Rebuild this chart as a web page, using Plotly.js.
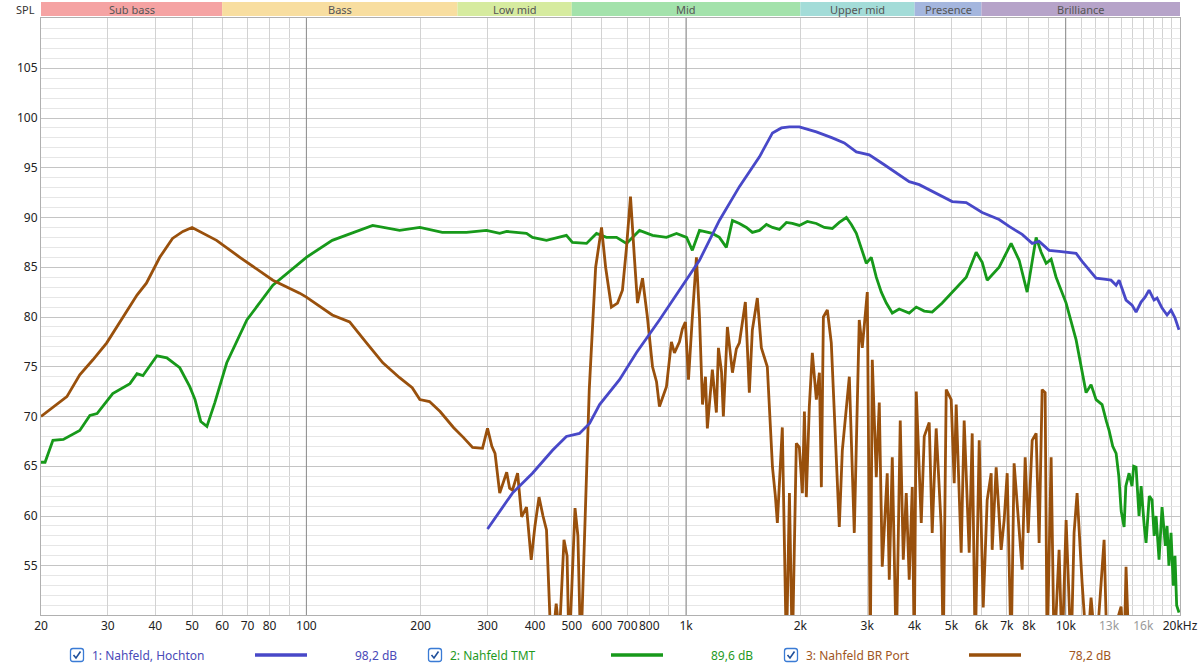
<!DOCTYPE html>
<html><head><meta charset="utf-8">
<script src="https://cdn.plot.ly/plotly-3.0.1.min.js"></script>
<style>html,body{margin:0;padding:0;background:#fff;} #chart{width:1200px;height:667px;}</style>
</head><body><div id="chart"></div>
<script>
// ---------- data ----------
const hochtonFreq = [300,323,349,394,445,484,524,557,592,668,
  740,851,1003,1085,1224,1382,1561,1689,1783,1872,
  1988,2204,2428,2611,2809,3038,3328,3643,3871,4114,
  4505,5024,5470,6026,6678,7097,7679,8160,8511,9044,
  9607,10206,10651,11044,11522,12023,12622,13165,13576,13824,
  14418,14953,15322,15793,16181,16577,17087,17400,17937,18489,
  18941,19408,19880];
const hochtonSpl = [58.7,60.5,62.3,64.3,66.6,68.0,68.3,69.3,71.2,73.7,
  76.4,79.7,83.7,85.7,89.7,93.1,96.1,98.5,99.0,99.1,
  99.1,98.6,98.0,97.5,96.6,96.3,95.3,94.3,93.6,93.3,
  92.5,91.6,91.5,90.5,89.8,89.1,88.3,87.4,87.6,86.7,
  86.6,86.5,86.4,85.6,84.7,83.9,83.8,83.7,83.2,83.7,
  81.7,81.2,80.5,81.5,82.0,82.7,81.7,81.9,80.9,80.2,
  80.7,79.9,78.7];

const tmtFreq = [20,20.5,21.5,22.9,25.3,26.9,28.1,30.9,34.3,35.8,
  37.1,40.4,42.9,46.4,49.3,50.9,52.7,54.7,57.4,61.7,
  69.7,81.6,100,117,149.5,176,199,228,264,298,
  323,337,380,394,429,464,484,502,547,581,
  617,656,697,754,816,888,944,1003,1039,1085,
  1173,1224,1277,1325,1382,1442,1495,1561,1628,1689,
  1762,1838,1905,1988,2087,2204,2313,2428,2533,2644,
  2725,2809,2894,2984,3075,3170,3268,3369,3493,3643,
  3871,4040,4240,4450,4728,5024,5470,5810,6026,6211,
  6678,7182,7540,7915,8358,8617,8881,9154,9434,10025,
  10651,11315,11662,12023,12467,12800,13008,13300,13576,13800,
  14000,14250,14400,14687,14950,15100,15322,15600,15800,16100,
  16277,16600,16881,17100,17300,17614,17937,18300,18489,18700,
  18941,19200,19400,19600,19880];
const tmtSpl = [65.4,65.4,67.6,67.7,68.6,70.1,70.3,72.3,73.3,74.3,
  74.1,76.1,75.9,74.9,73.0,71.7,69.5,69.0,71.4,75.4,
  79.7,83.2,86.0,87.7,89.2,88.7,89.0,88.5,88.5,88.7,
  88.4,88.6,88.4,88.0,87.7,88.0,88.2,87.5,87.4,88.4,
  88.0,88.0,87.4,88.7,88.2,88.0,88.4,88.0,86.7,88.7,
  88.4,88.0,87.0,89.7,89.4,89.0,88.5,88.7,89.3,89.0,
  88.8,89.5,89.4,89.2,89.6,89.4,89.0,88.9,89.5,90.0,
  89.3,88.4,87.0,85.4,86.0,84.0,82.5,81.4,80.4,80.8,
  80.4,81.0,80.6,80.5,81.4,82.5,84.0,86.5,85.5,83.7,
  85.0,87.4,85.7,82.5,88.0,86.5,85.4,85.8,84.0,81.4,
  77.7,72.4,73.2,71.7,71.2,69.5,68.6,67.0,66.3,64.0,
  60.5,58.9,63.0,64.3,63.0,65.0,64.9,60.0,63.0,59.0,
  57.3,62.0,61.6,58.0,60.0,55.6,60.9,57.0,59.0,55.0,
  58.3,53.0,56.0,51.0,50.3];

const portFreq = [20,21.5,23.4,25.3,27.4,29.8,32.2,35.8,37.9,41.1,
  44.4,47.3,50,52.4,58.0,66.8,81.6,96,100,117,
  130,144,159,176,190,199,211,225,244,259,
  274,291,300,308,314,323,337,343,349,360,
  369,380,391,400,410,420,429,442,455,464,
  477,486,492,510,519,528,556,578,599,614,
  636,660,680,697,714,731,745,768,791,816,
  836,851,888,915,932,961,978,996,1015,1039,
  1065,1085,1105,1125,1138,1173,1202,1217,1240,1254,
  1285,1325,1357,1382,1433,1468,1495,1541,1579,1637,
  1689,1719,1740,1793,1838,1872,1905,1952,1988,2025,
  2050,2074,2112,2151,2204,2245,2272,2300,2356,2413,
  2457,2533,2580,2692,2774,2859,2912,3002,3057,3094,
  3170,3228,3287,3388,3430,3493,3579,3666,3734,3802,
  3871,3943,3991,4040,4164,4240,4370,4450,4559,4700,
  4758,4845,4993,5085,5147,5305,5402,5569,5672,5776,
  5918,6063,6211,6364,6402,6559,6761,6885,7013,7182,
  7313,7540,7679,7821,7964,8160,8358,8511,8668,8827,
  8934,9154,9323,9607,9784,10025,10332,10521,10715,11044,
  11383,11662,12023,12622,12851,13992,14250,14418,14687,20000];
const portSpl = [70.0,70.9,72.0,74.2,75.7,77.4,79.4,82.2,83.4,86.0,
  87.9,88.6,89.0,88.6,87.7,86.0,83.7,82.4,82.0,80.2,
  79.5,77.4,75.4,73.9,72.9,71.7,71.5,70.5,68.9,67.9,
  66.9,66.8,68.8,67.0,66.3,62.3,64.4,62.8,62.6,64.3,
  59.9,60.9,55.6,59.0,61.9,60.0,58.6,46,51.2,48,
  57.6,56.0,46,60.8,58.0,46,72.7,85.0,89.0,85.0,
  81.0,81.4,82.7,87.0,92.1,86.0,81.4,83.9,80.0,75.0,
  73.5,71.0,73.0,77.5,76.4,77.5,78.8,79.5,73.7,80.0,
  86.0,80.0,71.2,74.0,68.8,74.7,70.4,76.9,74.5,70.0,
  79.0,74.4,76.8,77.4,81.5,72.4,78.7,81.9,76.9,75.0,
  64.9,62.0,59.3,68.9,46,62.3,46,67.3,66.9,62.3,
  70.5,61.9,71.0,76.4,71.7,74.4,62.9,80.0,80.7,77.4,
  70.0,58.9,66.6,74.0,58.3,79.7,76.9,82.5,46,75.7,
  63.9,71.4,54.9,64.3,53.6,65.9,46,69.6,55.6,62.3,
  53.6,62.9,46,72.5,59.3,68.0,69.4,58.3,68.8,58.9,
  46,72.7,71.7,63.3,71.2,56.3,69.6,56.3,68.3,46,
  67.6,50.8,61.6,64.3,56.6,64.9,56.6,59.6,64.3,46,
  65.3,58.3,54.6,65.9,58.3,67.6,68.3,57.3,72.7,72.4,
  46,65.9,46,56.6,46,59.6,46,58.3,62.3,53.3,
  46,51.8,46,57.6,46,50.9,46,54.9,46,45];

const xTickVals = [20,30,40,50,60,70,80,100,200,300,400,500,600,700,800,1000,2000,3000,4000,5000,6000,7000,8000,10000,13000,16000,20000];
const xTickText = ['20','30','40','50','60','70','80','100','200','300','400','500','600','700','800','1k','2k','3k','4k','5k','6k','7k','8k','10k',
  '<span style="color:#9a9a9a">13k</span>','<span style="color:#9a9a9a">16k</span>','20kHz'];
const xExtraGrid = [90,900,9000,11000,12000,14000,15000,17000,18000,19000];
const xDecadeLines = [100,1000,10000];
const yTickVals = [55,60,65,70,75,80,85,90,95,100,105];

const bandNames = ['Sub bass','Bass','Low mid','Mid','Upper mid','Presence','Brilliance'];
const bandEdges = [20,60,250,500,2000,4000,6000,20000];
const bandColors = ['#f5a3a3','#f8dea0','#d6eb9f','#a3e2ab','#a3dcd8','#a4b6de','#b6a3c9'];

const seriesNames = ['1: Nahfeld, Hochton','2: Nahfeld TMT','3: Nahfeld BR Port'];
const seriesLevels = ['98,2 dB','89,6 dB','78,2 dB'];
const seriesColors = ['#4848c8','#17991a','#99500c'];
const textColors = ['#4a4ab8','#1f9a1f','#a0561e'];

// ---------- layout helpers ----------
const L = 41, R = 1180, T = 18, B = 615;
const px = x => (x - L) / (R - L);
const py = y => (B - y) / (B - T);
const fFrac = f => (Math.log10(f) - Math.log10(20)) / (Math.log10(20000) - Math.log10(20));

const traces = [
  {x: tmtFreq, y: tmtSpl, color: seriesColors[1]},
  {x: portFreq, y: portSpl, color: seriesColors[2]},
  {x: hochtonFreq, y: hochtonSpl, color: seriesColors[0]}
].map(s => ({x: s.x, y: s.y, type: 'scatter', mode: 'lines',
  line: {color: s.color, width: 2.8}, hoverinfo: 'skip', showlegend: false}));

const shapes = [];
const annotations = [];

// decade lines
xDecadeLines.forEach(f => shapes.push({type: 'line', xref: 'x', yref: 'y',
  x0: f, x1: f, y0: 50.05, y1: 110.05, layer: 'between',
  line: {color: '#8c8c8c', width: 1}}));

// frequency bands
bandNames.forEach((n, i) => {
  shapes.push({type: 'rect', xref: 'paper', yref: 'paper',
    x0: fFrac(bandEdges[i]), x1: fFrac(bandEdges[i + 1]),
    y0: py(16), y1: py(2), fillcolor: bandColors[i], line: {width: 0}});
  annotations.push({xref: 'paper', yref: 'paper',
    x: (fFrac(bandEdges[i]) + fFrac(bandEdges[i + 1])) / 2, y: py(9),
    text: n, showarrow: false, xanchor: 'center', yanchor: 'middle',
    font: {size: 11, color: '#555', family: 'Noto Sans, sans-serif'}});
});
annotations.push({xref: 'paper', yref: 'paper', x: px(37), y: py(9), text: 'SPL',
  showarrow: false, xanchor: 'right', yanchor: 'middle',
  font: {size: 11, color: '#333', family: 'Noto Sans, sans-serif'}});

// legend
const legY = 655;
const cbX = [77, 435, 791], txtX = [90, 448, 804], lnX = [255, 611, 969], lvX = [353, 709, 1067];
function roundRect(cx, cy, h, r) {
  const x0 = cx - h, x1 = cx + h, y0 = cy - h, y1 = cy + h;
  const P = (x, y) => px(x) + ',' + py(y);
  return 'M' + P(x0 + r, y0) + ' L' + P(x1 - r, y0) + ' Q' + P(x1, y0) + ' ' + P(x1, y0 + r) +
    ' L' + P(x1, y1 - r) + ' Q' + P(x1, y1) + ' ' + P(x1 - r, y1) +
    ' L' + P(x0 + r, y1) + ' Q' + P(x0, y1) + ' ' + P(x0, y1 - r) +
    ' L' + P(x0, y0 + r) + ' Q' + P(x0, y0) + ' ' + P(x0 + r, y0) + ' Z';
}
seriesNames.forEach((n, i) => {
  shapes.push({type: 'path', xref: 'paper', yref: 'paper', path: roundRect(cbX[i], legY, 6.5, 2.5),
    line: {color: '#3a7bd5', width: 1.3}, fillcolor: '#fff'});
  shapes.push({type: 'path', xref: 'paper', yref: 'paper',
    path: 'M' + px(cbX[i] - 3.5) + ',' + py(legY) + ' L' + px(cbX[i] - 1) + ',' + py(legY + 3) +
      ' L' + px(cbX[i] + 3.5) + ',' + py(legY - 3.5),
    line: {color: '#1f4f9a', width: 1.6}});
  annotations.push({xref: 'paper', yref: 'paper', x: px(txtX[i]), y: py(legY), text: n,
    showarrow: false, xanchor: 'left', yanchor: 'middle',
    font: {size: 12, color: textColors[i], family: 'Noto Sans, sans-serif'}});
  shapes.push({type: 'line', xref: 'paper', yref: 'paper', x0: px(lnX[i]), x1: px(lnX[i] + 52),
    y0: py(legY), y1: py(legY), line: {color: seriesColors[i], width: 3.5}});
  annotations.push({xref: 'paper', yref: 'paper', x: px(lvX[i]), y: py(legY), text: seriesLevels[i],
    showarrow: false, xanchor: 'left', yanchor: 'middle',
    font: {size: 12, color: textColors[i], family: 'Noto Sans, sans-serif'}});
});

const layout = {
  width: 1200, height: 667,
  margin: {l: L, r: 1200 - R, t: T, b: 667 - B, pad: 0},
  paper_bgcolor: '#fff', plot_bgcolor: '#fff',
  showlegend: false,
  font: {family: 'Noto Sans, sans-serif', size: 12, color: '#222'},
  xaxis: {type: 'log', range: [Math.log10(20), Math.log10(20000)],
    tickmode: 'array', tickvals: xTickVals, ticktext: xTickText, tickangle: 0,
    showgrid: true, gridcolor: '#d2d2d2', gridwidth: 1,
    minor: {tickmode: 'array', tickvals: xExtraGrid, showgrid: true, gridcolor: '#d2d2d2', ticks: ''},
    showline: true, linecolor: '#b0b0b0', mirror: true, ticks: '', zeroline: false,
    tickfont: {size: 12, color: '#222'}},
  yaxis: {range: [50.05, 110.05], tickmode: 'array', tickvals: yTickVals,
    showgrid: true, gridcolor: '#c4c4c4', gridwidth: 1,
    minor: {tickmode: 'linear', tick0: 50, dtick: 1, showgrid: true, gridcolor: '#e6e6e6', ticks: ''},
    showline: true, linecolor: '#b0b0b0', mirror: true, ticks: '', zeroline: false,
    tickfont: {size: 12, color: '#222'}},
  shapes: shapes,
  annotations: annotations
};

Plotly.newPlot('chart', traces, layout, {displayModeBar: false, staticPlot: true});
</script>
</body></html>
